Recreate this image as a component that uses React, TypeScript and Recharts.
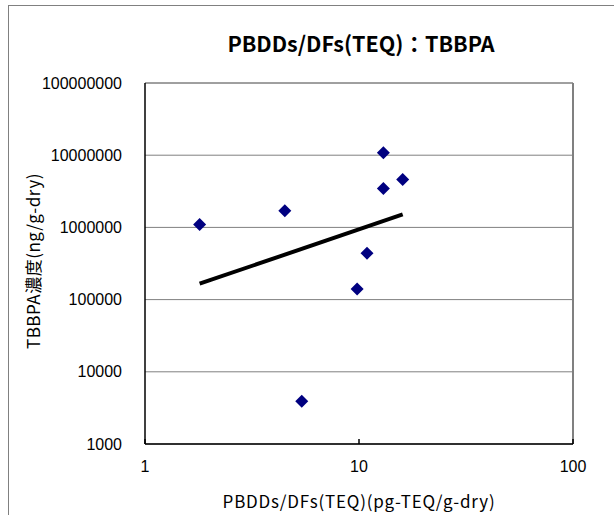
import React from "react";
import {
  ScatterChart,
  Scatter,
  XAxis,
  YAxis,
  CartesianGrid,
  ReferenceLine,
} from "recharts";

// PBDDs/DFs (TEQ) vs TBBPA concentration
const teqValues = [1.8, 4.5, 13.0, 13.0, 16.0, 10.9, 9.8, 5.4];
const tbbpaValues = [1.1e6, 1.7e6, 1.08e7, 3.45e6, 4.6e6, 4.4e5, 1.4e5, 3900];

// power trend line end points
const trendX = [1.8, 16.0];
const trendY = [1.66e5, 1.51e6];

const xTicks = [1, 10, 100];
const yTicks = [1000, 10000, 100000, 1000000, 10000000, 100000000];

const points = teqValues.map((x, i) => ({ x, y: tbbpaValues[i] }));
const trend = trendX.map((x, i) => ({ x, y: trendY[i] }));

const tickFont = { fill: "#000", fontSize: 16, fontFamily: "Liberation Sans, Arial, sans-serif" };
const jpFont = "'Noto Sans CJK JP', sans-serif";

const Diamond = (props: any) => {
  const { cx, cy } = props;
  const r = 6.5;
  return (
    <polygon
      points={`${cx},${cy - r} ${cx + r},${cy} ${cx},${cy + r} ${cx - r},${cy}`}
      fill="#000080"
    />
  );
};

const YTitle = () => (
  <text
    x={32}
    y={261}
    transform="rotate(-90 32 261)"
    textAnchor="middle"
    dominantBaseline="central"
    fontSize={17}
    letterSpacing={0.5}
    fontFamily={jpFont}
    fill="#000"
  >
    TBBPA濃度(ng/g-dry)
  </text>
);

export default function App() {
  return (
    <div style={{ position: "absolute", left: 0, top: 0, width: 614, height: 515, overflow: "hidden", background: "#fff" }}>
      <div
        style={{
          position: "absolute",
          left: 8,
          top: 5,
          width: 620,
          height: 520,
          border: "1px solid #808080",
          boxSizing: "border-box",
        }}
      />
      <div
        style={{
          position: "absolute",
          left: 0,
          width: 722,
          top: 29,
          textAlign: "center",
          fontFamily: jpFont,
          fontWeight: "bold",
          fontSize: 21.5,
          lineHeight: "28px",
          color: "#000",
        }}
      >
        PBDDs/DFs(TEQ)：TBBPA
      </div>
      <ScatterChart
        width={614}
        height={515}
        margin={{ top: 83, right: 41, bottom: 0, left: 0 }}
        style={{ position: "absolute", left: 0, top: 0 }}
      >
        <CartesianGrid horizontal vertical={false} stroke="#808080" strokeWidth={1} />
        <XAxis
          type="number"
          dataKey="x"
          scale="log"
          domain={[1, 100]}
          ticks={xTicks}
          allowDataOverflow
          height={71}
          stroke="#000"
          strokeWidth={1.5}
          tickSize={-5}
          tickMargin={22}
          tick={tickFont}
          tickFormatter={(v: number) => String(v)}
          label={{
            value: "PBDDs/DFs(TEQ)(pg-TEQ/g-dry)",
            position: "insideBottom",
            offset: 7,
            fontSize: 17,
            letterSpacing: 0.8,
            fontFamily: jpFont,
            fill: "#000",
          }}
        />
        <YAxis
          type="number"
          dataKey="y"
          scale="log"
          domain={[1000, 100000000]}
          ticks={yTicks}
          allowDataOverflow
          width={145}
          stroke="#000"
          strokeWidth={1.5}
          tickLine={false}
          tickSize={0}
          tickMargin={23}
          tick={tickFont}
          tickFormatter={(v: number) => String(v)}
          label={<YTitle />}
        />
        <ReferenceLine x={100} stroke="#808080" strokeWidth={2} />
        <ReferenceLine y={100000000} stroke="#808080" strokeWidth={1} />
        <Scatter data={points} shape={<Diamond />} isAnimationActive={false} />
        <Scatter
          data={trend}
          line={{ stroke: "#000", strokeWidth: 4 }}
          lineType="joint"
          shape={() => null}
          isAnimationActive={false}
        />
      </ScatterChart>
    </div>
  );
}
